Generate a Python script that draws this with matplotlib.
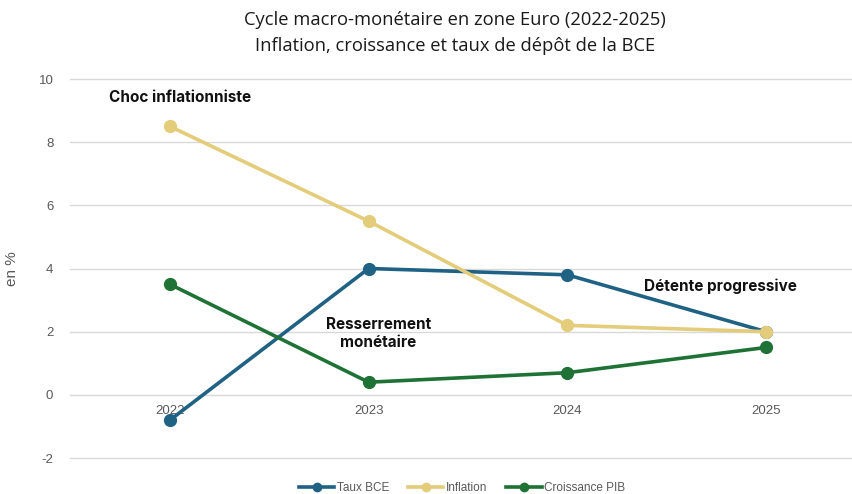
import matplotlib
matplotlib.use("Agg")
import matplotlib.pyplot as plt

years = ["2022", "2023", "2024", "2025"]
taux_bce = [-0.8, 4.0, 3.8, 2.0]
inflation = [8.5, 5.5, 2.2, 2.0]
croissance = [3.5, 0.4, 0.7, 1.5]
yticks = [-2, 0, 2, 4, 6, 8, 10]

c_blue = "#1F6284"
c_yellow = "#E3CC7A"
c_green = "#1E7235"

fig = plt.figure(figsize=(8.52, 4.94), dpi=100)
ax = fig.add_axes([70/852, 1-458/494, 1-70/852, (458-79)/494])

x = list(range(len(years)))
for vals, col, lab in [(taux_bce, c_blue, "Taux BCE"), (inflation, c_yellow, "Inflation"), (croissance, c_green, "Croissance PIB")]:
    ax.plot(x, vals, color=col, lw=2.6, marker="o", ms=8.5, label=lab, zorder=3)

ax.set_xlim(-0.503, 3.433)
ax.set_ylim(-2, 10)
ax.set_yticks(yticks)
ax.set_yticklabels([str(v) for v in yticks], fontsize=9.5, color="#595959", family="Liberation Sans")
for gl in ax.yaxis.get_gridlines():
    pass
ax.yaxis.grid(True, color="#D9D9D9", lw=1)
for gl in ax.yaxis.get_gridlines():
    gl.set_clip_on(False)
ax.set_axisbelow(True)
for s in ["top", "right", "left"]:
    ax.spines[s].set_visible(False)
ax.spines["bottom"].set_position(("data", 0))
ax.spines["bottom"].set_color("#D9D9D9")
ax.tick_params(axis="y", length=0, pad=12)
ax.tick_params(axis="x", length=0, pad=7)
ax.set_xticks(x)
ax.set_xticklabels(years, fontsize=9.5, color="#595959", family="Liberation Sans")

ax.set_ylabel("en %", fontsize=11, color="#595959", family="Liberation Sans", labelpad=14)

fig.text(455/852, 1-20/494, "Cycle macro-monétaire en zone Euro (2022-2025)", ha="center", va="center", fontsize=13.2, color="#1a1a1a", family="Open Sans")
fig.text(455/852, 1-46/494, "Inflation, croissance et taux de dépôt de la BCE", ha="center", va="center", fontsize=13.2, color="#1a1a1a", family="Open Sans")

kw = dict(fontsize=11, fontweight="bold", color="#111111", family="Inter", ha="center", va="center")
ax.text(0.05, 9.4, "Choc inflationniste", **kw)
ax.text(1.05, 1.95, "Resserrement\nmonétaire", linespacing=1.25, **kw)
ax.text(2.77, 3.45, "Détente progressive", **kw)

leg = fig.legend(loc="center", bbox_to_anchor=(462/852, 1-488/494), ncol=3, frameon=False,
                 handlelength=3, handletextpad=0.2, columnspacing=1.6,
                 prop={"family": "Liberation Sans", "size": 8.5})
for t in leg.get_texts():
    t.set_color("#595959")
for h in leg.legend_handles:
    h.set_markersize(6)

fig.savefig("out.png", dpi=100)
